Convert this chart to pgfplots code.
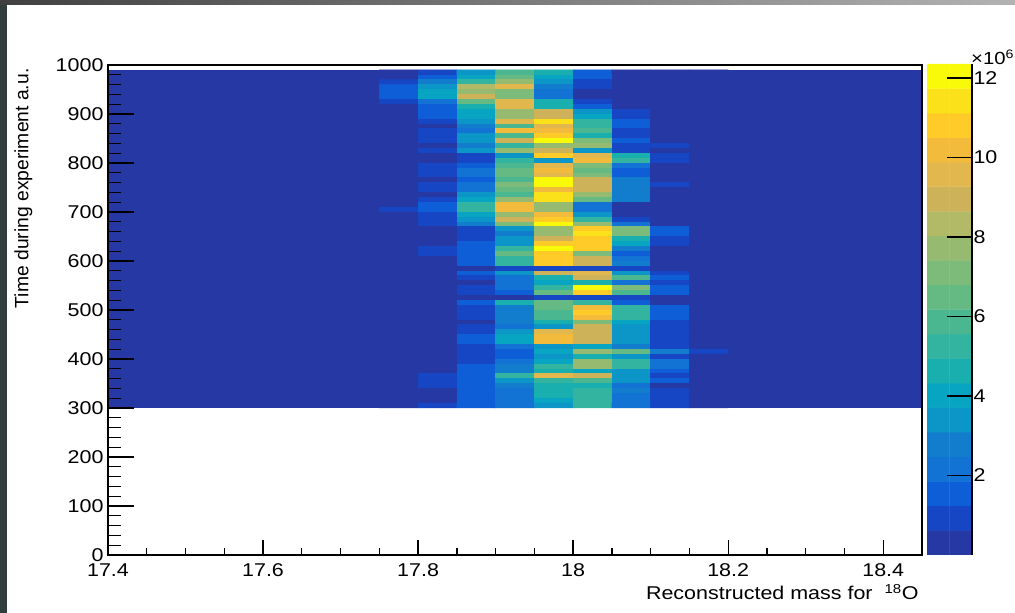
\documentclass[border=0pt]{standalone}
\usepackage{pgfplots}
\pgfplotsset{compat=1.18}
\usepackage{fontspec}
\setmainfont{Liberation Sans}
\newfontfamily\widefont[FakeStretch=1.16]{Liberation Sans}
\definecolor{birdlow}{RGB}{38,56,163}
\definecolor{leftstrip}{RGB}{48,62,62}
\pgfplotsset{
  birdmap/.style={
    colormap={bird20}{
      rgb255=(38,56,163) rgb255=(22,70,196) rgb255=(14,95,215) rgb255=(18,115,212)
      rgb255=(18,125,205) rgb255=(12,150,200) rgb255=(8,165,195) rgb255=(25,175,175)
      rgb255=(50,180,160) rgb255=(75,183,145) rgb255=(100,186,130) rgb255=(125,187,122)
      rgb255=(150,187,112) rgb255=(178,185,103) rgb255=(205,178,90) rgb255=(226,183,78)
      rgb255=(243,187,60) rgb255=(255,203,40) rgb255=(250,225,25) rgb255=(249,250,10)
    },
    colormap access=piecewise constant,
    point meta min=0, point meta max=12.35,
  }
}
\begin{document}
\begin{tikzpicture}[x=1pt,y=1pt]
\useasboundingbox (0,0) rectangle (1015,613);
\fill[white] (0,0) rectangle (1015,613);
\fill[leftstrip] (0,0) rectangle (7,613);
\shade[left color=black!75, right color=black!30] (0,608) rectangle (1015,613);
\begin{axis}[
  at={(108pt,58pt)}, anchor=south west,
  scale only axis, width=814pt, height=490pt,
  birdmap,
  xmin=17.4, xmax=18.45, ymin=0, ymax=1000,
  xtick={17.4,17.6,17.8,18,18.2,18.4},
  xticklabels={17.4,17.6,17.8,18,18.2,18.4},
  minor x tick num=3,
  ytick={0,100,...,1000},
  minor y tick num=4,
  /pgf/number format/1000 sep={},
  tick align=inside,
  xtick pos=bottom, ytick pos=left,
  x tick style={black,line width=1.3pt},
  y tick style={black,line width=1.3pt},
  xtick style={/pgfplots/major tick length=15pt},
  ytick style={/pgfplots/major tick length=26pt},
  minor y tick style={/pgfplots/minor tick length=13pt},
  minor x tick style={/pgfplots/minor tick length=7pt},
  axis line style={black,line width=1.4pt},
  axis on top,
  tick label style={font=\widefont\fontsize{18.5}{19}\selectfont},
  /pgf/number format/assume math mode=true,
  yticklabel style={xshift=-1pt},
  xticklabel style={yshift=-5pt},
  xlabel={Reconstructed mass for\ \ \textsuperscript{18}O},
  ylabel={Time during experiment a.u.},
  xlabel style={font=\widefont\fontsize{18.5}{19}\selectfont,at={(rel axis cs:1,0)},anchor=east,yshift=-37pt},
  ylabel style={font=\fontsize{19.3}{20}\selectfont,at={(rel axis cs:0,1)},anchor=south east,rotate=0,yshift=72pt},
]
\addplot[fill=birdlow,draw=none] coordinates {(17.4,300)(18.45,300)(18.45,990)(17.4,990)} --cycle;
\addplot[matrix plot*, mesh/cols=9, point meta=explicit] table[
  row sep=\\, header=false,
  x expr={17.775+0.05*mod(\coordindex,9)},
  y expr={985-10*floor((\coordindex+0.5)/9)},
  meta expr=\thisrowno{0}] {
.3\\1\\3.4\\5.8\\4.6\\1.8\\0\\0\\0\\
.3\\1.3\\4\\6.5\\4.2\\1.5\\0\\0\\0\\
1\\2.5\\5\\7.5\\3.6\\.9\\0\\0\\0\\
1.5\\3.6\\8.6\\9.8\\3\\.9\\0\\0\\0\\
1.5\\3.8\\7.5\\7\\2.4\\.3\\0\\0\\0\\
1.5\\3.8\\8.8\\7.2\\2.3\\.5\\0\\0\\0\\
.9\\2.2\\6.5\\9.8\\4.5\\1.2\\0\\0\\0\\
0\\1.8\\4.6\\9.4\\4.8\\1.5\\0\\0\\0\\
0\\1.6\\4.2\\8\\9.1\\3.6\\.9\\0\\0\\
0\\1.5\\4.2\\7.5\\8.9\\3.8\\1\\0\\0\\
0\\.9\\3.4\\9.4\\11.2\\5\\1.3\\0\\0\\
0\\.6\\2.5\\5.8\\9.6\\5.5\\1.3\\0\\0\\
0\\1\\2\\10.4\\10.4\\5.8\\1.2\\0\\0\\
0\\1\\3.5\\6\\10.6\\4.5\\1.2\\0\\0\\
0\\.7\\3.6\\8.9\\12\\7\\1.5\\0\\0\\
0\\.4\\2.8\\5.2\\8\\8\\.9\\.7\\0\\
0\\1\\3.4\\8\\8.9\\3.2\\.9\\0\\0\\
0\\.2\\.9\\3.6\\10.8\\9.6\\4.5\\1.1\\0\\
0\\.2\\1\\5\\3.4\\10.1\\5\\1.1\\0\\
0\\.9\\1.8\\6\\9.6\\7\\2\\0\\0\\
0\\1\\2.3\\6.5\\9.9\\6.5\\1.7\\0\\0\\
0\\1\\2.2\\6.5\\9.6\\7.2\\1.5\\0\\0\\
0\\.6\\1.5\\6\\12\\9.1\\2.8\\0\\0\\
0\\.8\\1.9\\7\\12\\8.8\\2.5\\.7\\0\\
0\\.8\\2\\6.5\\10.1\\9\\2.8\\0\\0\\
0\\.6\\3.5\\5.6\\11.4\\7.5\\2.6\\0\\0\\
0\\1\\3.9\\8\\11.6\\6.5\\2.5\\0\\0\\
0\\1.8\\5\\10.1\\7.5\\2.2\\0\\0\\0\\
1\\1.8\\5.5\\10.2\\7.5\\2.2\\0\\0\\0\\
0\\1.1\\4\\7.5\\10.2\\3.5\\.3\\0\\0\\
0\\1\\3.2\\9.2\\11\\5.5\\.8\\0\\0\\
0\\1\\2.5\\7.2\\12.2\\7.8\\2\\0\\0\\
0\\.3\\1\\3.5\\8\\10.6\\7.3\\1.8\\0\\
0\\.3\\.9\\2.9\\7.8\\11.4\\7\\1.6\\0\\
0\\0\\1\\3.3\\9.2\\10.8\\4.5\\.9\\0\\
0\\0\\1.3\\3.5\\10.6\\10.6\\3.8\\.9\\0\\
0\\.9\\1.8\\5\\11.8\\10.6\\3\\.3\\0\\
0\\.9\\1.8\\6.5\\11.1\\7\\1.5\\.3\\0\\
0\\.2\\1.6\\5.5\\10.8\\8.9\\2.2\\.6\\0\\
0\\.5\\1.4\\5\\10.6\\8.9\\2.6\\.3\\0\\
0\\0\\.5\\.9\\1\\1.2\\.9\\.3\\0\\
0\\0\\1.5\\3.4\\8.8\\9.6\\3.6\\.9\\0\\
0\\0\\1\\2.2\\4.5\\9\\6\\1.6\\0\\
0\\0\\.6\\2.2\\3.8\\4.8\\2\\.8\\0\\
0\\0\\.9\\2.2\\5.5\\12\\7\\1.8\\0\\
0\\0\\.9\\1.6\\6.5\\11.1\\6\\1.8\\0\\
0\\0\\.3\\.6\\.9\\1\\.9\\.6\\0\\
0\\0\\1.4\\4.5\\6.5\\5.5\\1.6\\.5\\0\\
0\\0\\1\\3\\6.5\\10.1\\5.5\\1.4\\0\\
0\\0\\1\\3\\6\\10.6\\5.5\\1.4\\0\\
0\\0\\1\\2.6\\6\\10.1\\5.2\\1.4\\0\\
0\\0\\.6\\2.5\\4.5\\7\\4\\1.2\\0\\
0\\0\\.9\\2.2\\3.5\\9.1\\3.2\\.9\\0\\
0\\0\\1\\3.4\\9.6\\8.9\\3.2\\.9\\0\\
0\\0\\1.5\\4\\9.9\\8.9\\3.2\\1\\0\\
0\\0\\1.5\\4\\9.9\\8.9\\3.4\\1\\0\\
0\\0\\1\\2.4\\3.5\\4\\2.5\\.9\\0\\
0\\0\\.7\\1.6\\4\\8\\6.5\\3\\.9\\
0\\0\\1\\1.8\\3.4\\4.5\\3.5\\1.2\\0\\
0\\0\\1\\2\\4\\7.5\\5.5\\2.2\\0\\
0\\0\\1.5\\3\\5\\7.8\\5.5\\2.2\\0\\
0\\0\\1.5\\2.8\\4.5\\4\\3.6\\1.6\\0\\
0\\1\\1.6\\5.5\\9.4\\9.2\\3.4\\1.2\\0\\
0\\.9\\1.5\\3.4\\5.5\\6\\3.2\\1.5\\0\\
0\\.9\\1.5\\3\\4.8\\4.4\\2.2\\.4\\0\\
0\\0\\1.5\\2.3\\4.8\\5.2\\2.5\\1\\0\\
0\\0\\1.5\\2.3\\4.6\\5.2\\2.4\\1\\0\\
0\\0\\1.4\\2.2\\4\\5\\2.4\\1\\0\\
0\\.7\\1.5\\2.2\\3.5\\5\\2.4\\.9\\0\\
};
\end{axis}
\begin{axis}[
  at={(927pt,58pt)}, anchor=south west,
  scale only axis, width=45pt, height=491pt,
  birdmap,
  xmin=-0.5, xmax=1.5, ymin=0, ymax=12.35,
  axis x line=none,
  axis y line*=right,
  ytick={2,4,...,12},
  tick align=inside,
  y tick style={black,line width=1.3pt},
  ytick style={/pgfplots/major tick length=25pt},
  axis line style={black,line width=1.2pt,-},
  axis on top,
  tick label style={font=\widefont\fontsize{18.5}{19}\selectfont},
  /pgf/number format/assume math mode=true,
  yticklabel style={xshift=-2pt},
]
\addplot[matrix plot*, mesh/cols=2, point meta=explicit] coordinates {
(0,.309)[.309](1,.309)[.309](0,.926)[.926](1,.926)[.926]
(0,1.544)[1.544](1,1.544)[1.544](0,2.161)[2.161](1,2.161)[2.161]
(0,2.779)[2.779](1,2.779)[2.779](0,3.396)[3.396](1,3.396)[3.396]
(0,4.014)[4.014](1,4.014)[4.014](0,4.631)[4.631](1,4.631)[4.631]
(0,5.249)[5.249](1,5.249)[5.249](0,5.866)[5.866](1,5.866)[5.866]
(0,6.484)[6.484](1,6.484)[6.484](0,7.101)[7.101](1,7.101)[7.101]
(0,7.719)[7.719](1,7.719)[7.719](0,8.336)[8.336](1,8.336)[8.336]
(0,8.954)[8.954](1,8.954)[8.954](0,9.571)[9.571](1,9.571)[9.571]
(0,10.189)[10.189](1,10.189)[10.189](0,10.806)[10.806](1,10.806)[10.806]
(0,11.424)[11.424](1,11.424)[11.424](0,12.041)[12.041](1,12.041)[12.041]
};
\end{axis}
\node[anchor=west,inner sep=0pt,font=\widefont\fontsize{17.5}{18}\selectfont] at (971,556) {×10\textsuperscript{6}};
\end{tikzpicture}
\end{document}
